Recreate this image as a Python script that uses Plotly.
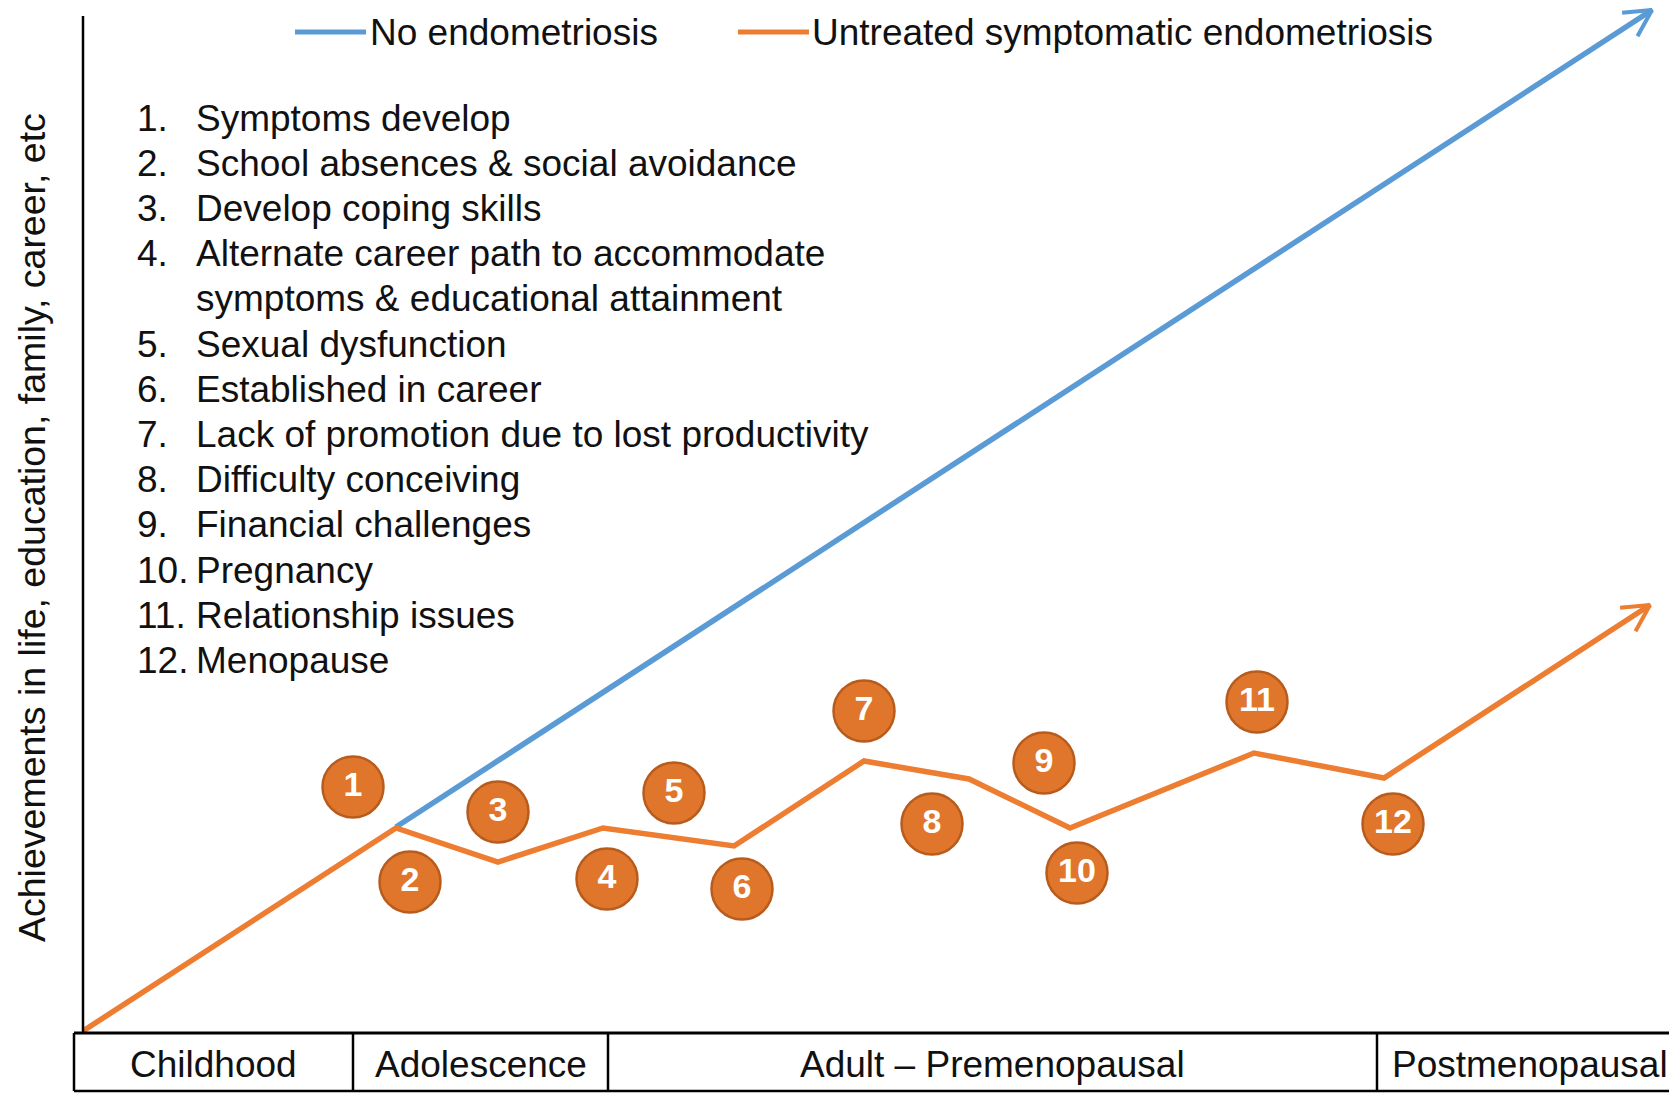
import numpy as np
import plotly.graph_objects as go

# ---------------- data ----------------
untreated_x = [0, 313, 415, 520, 651, 781, 886, 987, 1171, 1301, 1567]
untreated_y = [2, 205, 171, 205, 187, 272, 254, 205, 280, 255, 428]

no_endo_x = [313, 1569]
no_endo_y = [206, 1023]

event_numbers = ["1", "2", "3", "4", "5", "6", "7", "8", "9", "10", "11", "12"]
event_x = [270, 327, 415, 524, 591, 659, 781, 849, 961, 994, 1174, 1310]
event_y = [246, 151, 221, 154, 240, 144, 322, 209, 270, 160, 331, 209]

event_labels = [
    "Symptoms develop",
    "School absences & social avoidance",
    "Develop coping skills",
    "Alternate career path to accommodate\nsymptoms & educational attainment",
    "Sexual dysfunction",
    "Established in career",
    "Lack of promotion due to lost productivity",
    "Difficulty conceiving",
    "Financial challenges",
    "Pregnancy",
    "Relationship issues",
    "Menopause",
]

stage_names = ["Childhood", "Adolescence", "Adult \u2013 Premenopausal", "Postmenopausal"]
stage_bounds = [-9, 270, 525, 1294, 1600]

series_names = ["No endometriosis", "Untreated symptomatic endometriosis"]
y_title = "Achievements in life, education, family, career, etc"

# ---------------- styles ----------------
BLUE = "#5B9BD5"
ORANGE = "#ED7D31"
CIRCLE_FILL = "#E0762B"
CIRCLE_EDGE = "#B85C1E"
FONT = "Liberation Sans, Arial, sans-serif"
FS = 37
TXT = "#111111"

W, H = 1669, 1093
X0 = -83      # data x at figure left edge
YTOP = 1033   # data y at figure top edge


def chevron(xs, ys, length=30, half_angle=28):
    dx, dy = xs[-1] - xs[-2], ys[-1] - ys[-2]
    ang = np.arctan2(dy, dx)
    out_x, out_y = [], []
    for s in (1, -1):
        a = ang + np.pi + s * np.radians(half_angle)
        out_x.append(xs[-1] + length * np.cos(a))
        out_y.append(ys[-1] + length * np.sin(a))
    return [out_x[0], xs[-1], out_x[1]], [out_y[0], ys[-1], out_y[1]]


fig = go.Figure()

fig.add_trace(go.Scatter(x=no_endo_x, y=no_endo_y, mode="lines",
                         line=dict(color=BLUE, width=5.5), name=series_names[0],
                         showlegend=False, hoverinfo="skip"))
cx, cy = chevron(no_endo_x, no_endo_y)
fig.add_trace(go.Scatter(x=cx, y=cy, mode="lines", line=dict(color=BLUE, width=4),
                         showlegend=False, hoverinfo="skip"))

fig.add_trace(go.Scatter(x=untreated_x, y=untreated_y, mode="lines",
                         line=dict(color=ORANGE, width=5.5), name=series_names[1],
                         showlegend=False, hoverinfo="skip"))
cx, cy = chevron(untreated_x, untreated_y)
fig.add_trace(go.Scatter(x=cx, y=cy, mode="lines", line=dict(color=ORANGE, width=4),
                         showlegend=False, hoverinfo="skip"))

fig.add_trace(go.Scatter(
    x=event_x, y=event_y, mode="markers+text",
    marker=dict(size=61, color=CIRCLE_FILL, line=dict(color=CIRCLE_EDGE, width=2.5)),
    text=[f"<b>{n}</b>" for n in event_numbers],
    textposition="middle center",
    textfont=dict(family=FONT, size=34, color="white"),
    showlegend=False, hoverinfo="skip"))

shapes = []
annotations = []

# y axis line
shapes.append(dict(type="line", xref="x", yref="y", x0=0, x1=0, y0=0, y1=1017,
                   line=dict(color="black", width=2.5)))

# life stage table
tbl_top, tbl_bot = 0, -58
shapes.append(dict(type="line", x0=stage_bounds[0], x1=stage_bounds[-1], y0=tbl_top, y1=tbl_top,
                   line=dict(color="black", width=3)))
shapes.append(dict(type="line", x0=stage_bounds[0], x1=stage_bounds[-1], y0=tbl_bot, y1=tbl_bot,
                   line=dict(color="black", width=2.5)))
for b in stage_bounds:
    shapes.append(dict(type="line", x0=b, x1=b, y0=tbl_top, y1=tbl_bot,
                       line=dict(color="black", width=2.5)))
for i, name in enumerate(stage_names):
    annotations.append(dict(x=(stage_bounds[i] + stage_bounds[i + 1]) / 2, y=-31,
                            text=name, showarrow=False, xanchor="center", yanchor="middle",
                            font=dict(family=FONT, size=FS, color=TXT)))

# legend (manual)
legend_line_x = [(212, 283), (655, 726)]
legend_text_x = [285, 727]
legend_y = 1001
for (a, b), tx, name, col in zip(legend_line_x, legend_text_x, series_names, [BLUE, ORANGE]):
    shapes.append(dict(type="line", x0=a, x1=b, y0=legend_y, y1=legend_y,
                       line=dict(color=col, width=5)))
    annotations.append(dict(x=tx, y=legend_y, text=name, showarrow=False,
                            xanchor="left", yanchor="middle",
                            font=dict(family=FONT, size=FS, color=TXT)))

# numbered list
list_top = 1033 - 118
step = 45.2
line_i = 0
for n, label in zip(event_numbers, event_labels):
    parts = label.split("\n")
    for j, part in enumerate(parts):
        yy = list_top - step * line_i
        if j == 0:
            annotations.append(dict(x=52, y=yy, text=f"{n}.", showarrow=False,
                                    xanchor="left", yanchor="middle",
                                    font=dict(family=FONT, size=FS, color=TXT)))
        annotations.append(dict(x=111, y=yy, text=part, showarrow=False,
                                xanchor="left", yanchor="middle",
                                font=dict(family=FONT, size=FS, color=TXT)))
        line_i += 1

# y axis title
annotations.append(dict(x=-51, y=505, text=y_title, showarrow=False, textangle=-90,
                        xanchor="center", yanchor="middle",
                        font=dict(family=FONT, size=37.5, color=TXT)))

fig.update_layout(
    width=W, height=H, autosize=False,
    margin=dict(l=0, r=0, t=0, b=0, pad=0),
    paper_bgcolor="white", plot_bgcolor="white",
    xaxis=dict(range=[X0, X0 + W], visible=False, fixedrange=True),
    yaxis=dict(range=[YTOP - H, YTOP], visible=False, fixedrange=True),
    shapes=shapes, annotations=annotations, showlegend=False,
)

fig.write_html(
    "out.html",
    config={"displayModeBar": False},
    post_script="document.body.style.margin='0';document.body.style.overflow='hidden';",
)
